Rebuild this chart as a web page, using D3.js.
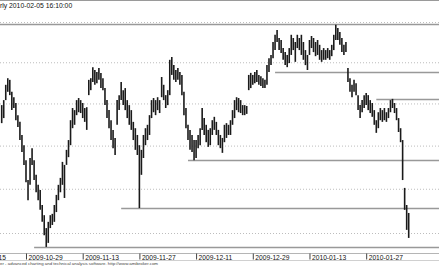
<!DOCTYPE html>
<html>
<head>
<meta charset="utf-8">
<script src="https://cdn.jsdelivr.net/npm/d3@7"></script>
<style>
  html, body { margin: 0; padding: 0; background: #fff; }
  svg { display: block; font-family: "Liberation Sans", Arial, sans-serif; }
</style>
</head>
<body>
<svg width="439" height="268"></svg>
<script>
// bar highs / lows, one bar per slot
const highs = [
  42.96, 43.08, 43.45, 43.61, 43.57, 43.28, 43.15, 43.01, 42.72, 42.56,
  42.25, 42.01, 41.66, 41.20, 41.71, 41.94, 41.66, 41.32, 41.09, 40.97,
  40.63, 40.40, 40.11, 40.25, 40.40, 40.43, 40.63, 40.86, 41.09, 41.25,
  41.62, 41.55, 41.90, 42.13, 42.60, 42.89, 42.84, 43.08, 43.13, 43.08,
  43.01, 42.89, 42.91, 43.57, 43.61, 43.88, 43.81, 43.76, 43.86, 43.74,
  43.61, 43.37, 43.08, 42.84, 42.60, 42.37, 42.18, 43.08, 43.20, 43.52,
  43.32, 43.37, 43.08, 42.96, 42.84, 42.56, 42.41, 42.25, 42.01, 41.90,
  42.25, 42.41, 42.49, 42.72, 43.08, 43.13, 43.08, 43.15, 43.08, 43.64,
  43.45, 43.20, 43.32, 44.06, 44.13, 43.93, 43.81, 43.86, 43.76, 43.69,
  43.28, 42.89, 42.49, 42.37, 42.25, 42.13, 42.13, 42.25, 42.41, 42.89,
  42.65, 42.49, 42.37, 42.41, 42.60, 42.68, 42.56, 42.37, 42.25, 42.18,
  42.49, 42.53, 42.49, 42.60, 42.84, 43.08, 43.15, 43.13, 43.08, 42.96,
  42.96, 42.94, 43.69, 43.74, 43.69, 43.76, 43.81, 43.69, 43.66, 43.61,
  43.57, 43.93, 44.10, 44.18, 44.50, 44.68, 44.80, 44.60, 44.55, 44.35,
  44.25, 44.18, 44.35, 44.68, 44.60, 44.50, 44.68, 44.60, 44.68, 44.50,
  44.30, 44.18, 44.55, 44.65, 44.60, 44.50, 44.55, 44.43, 44.30, 44.35,
  44.30, 44.35, 44.30, 44.43, 44.68, 44.93, 44.85, 44.75, 44.60, 44.43,
  44.50, 43.86, 43.61, 43.45, 43.57, 43.49, 43.20, 42.96, 43.08, 43.20,
  43.25, 43.20, 43.08, 43.01, 42.84, 42.60, 42.79, 42.89, 42.84, 42.89,
  42.79, 42.89, 43.08, 43.11, 43.01, 42.89, 42.65, 42.41, 42.13, 41.02,
  40.63, 40.45
];
const lows = [
  42.53, 42.65, 43.08, 43.28, 43.20, 42.84, 42.89, 42.60, 42.44, 42.13,
  41.85, 41.55, 41.15, 40.74, 41.09, 41.55, 41.20, 40.92, 40.74, 40.52,
  40.25, 39.95, 39.69, 39.78, 40.11, 40.18, 40.25, 40.47, 40.74, 40.92,
  41.09, 40.79, 41.55, 41.73, 42.01, 42.41, 42.49, 42.72, 42.79, 42.77,
  42.65, 42.56, 42.37, 43.20, 43.32, 43.52, 43.45, 43.49, 43.57, 43.37,
  43.32, 42.96, 42.65, 42.41, 42.13, 41.94, 41.78, 42.49, 42.84, 43.08,
  42.96, 42.84, 42.65, 42.49, 42.37, 42.13, 41.90, 41.78, 40.56, 41.32,
  41.71, 42.01, 42.13, 42.25, 42.65, 42.79, 42.72, 42.84, 42.77, 43.15,
  43.08, 42.89, 42.96, 43.20, 43.69, 43.57, 43.52, 43.57, 43.45, 43.20,
  42.72, 42.41, 42.13, 41.90, 41.85, 41.66, 41.71, 41.94, 42.01, 42.37,
  42.25, 42.08, 41.97, 42.01, 42.25, 42.37, 42.25, 42.01, 41.94, 41.83,
  42.08, 42.18, 42.25, 42.25, 42.49, 42.65, 42.84, 42.79, 42.77, 42.72,
  42.72, 42.75, 43.32, 43.37, 43.45, 43.49, 43.52, 43.45, 43.42, 43.37,
  43.37, 43.45, 43.76, 43.93, 44.10, 44.30, 44.50, 44.30, 44.23, 44.06,
  43.93, 43.88, 43.98, 44.18, 44.30, 44.01, 44.35, 44.30, 44.18, 44.06,
  43.93, 43.81, 44.18, 44.35, 44.25, 44.15, 44.18, 44.06, 44.01, 44.06,
  44.06, 44.10, 44.06, 44.15, 44.30, 44.55, 44.55, 44.43, 44.25, 44.18,
  44.25, 43.52, 43.28, 43.15, 43.28, 43.20, 42.84, 42.65, 42.79, 42.89,
  42.96, 42.84, 42.77, 42.68, 42.49, 42.30, 42.41, 42.60, 42.56, 42.60,
  42.56, 42.65, 42.79, 42.89, 42.77, 42.60, 42.32, 42.08, 41.20, 40.52,
  40.07, 39.89
];

// date axis: label every 28 bars
const tickBars = [-16, 12, 40, 68, 96, 124, 152, 180];
const tickLabels = ['2009-10-15', '2009-10-29', '2009-11-13', '2009-11-27',
                    '2009-12-11', '2009-12-29', '2010-01-13', '2010-01-27'];

// price grid and drawn horizontal levels
const gridPrices = [45, 44, 43, 42, 41, 40];
const levelPrices = [44.95, 43.76, 43.11, 41.66, 40.56, 39.69];
const levelStartBars = [-20, 135, 185, 92, 59, 16];

const titleText = 'rly 2010-02-05 16:10:00';
const footerText = 'er - advanced charting and technical analysis software. http://www.amibroker.com';

const W = 439, H = 268;
const svg = d3.select('svg');

const x = d3.scaleLinear().domain([0, highs.length - 1]).range([1.7, 408.7]);
const y = d3.scaleLog().domain([40, 45]).range([233, 22]);

// top frame line
svg.append('line')
    .attr('x1', 0).attr('x2', W)
    .attr('y1', 0.5).attr('y2', 0.5)
    .attr('stroke', '#9a9a9a');

svg.append('text')
    .attr('x', 0)
    .attr('y', 8)
    .attr('font-size', 6.8)
    .attr('fill', '#111')
    .text(titleText);

// dotted grid
const grid = svg.append('g')
    .call(d3.axisLeft(y).tickValues(gridPrices).tickSize(-W).tickFormat(''));
grid.select('.domain').remove();
grid.selectAll('.tick line')
    .attr('stroke', '#bdbdbd')
    .attr('stroke-dasharray', '1,2');

// horizontal levels
svg.append('g')
  .selectAll('line')
  .data(levelPrices)
  .join('line')
    .attr('x1', (d, i) => x(levelStartBars[i]))
    .attr('x2', W)
    .attr('y1', d => Math.round(y(d)) + 0.5)
    .attr('y2', d => Math.round(y(d)) + 0.5)
    .attr('stroke', '#999')
    .attr('stroke-width', 1.3);

// bars
svg.append('g')
  .selectAll('line')
  .data(highs)
  .join('line')
    .attr('x1', (d, i) => x(i))
    .attr('x2', (d, i) => x(i))
    .attr('y1', d => y(d))
    .attr('y2', (d, i) => y(lows[i]))
    .attr('stroke', '#1a1a1a')
    .attr('stroke-width', 1.6);

// date axis
const axisY = 253.5;
const xAxis = svg.append('g')
    .attr('transform', `translate(0,${axisY})`)
    .call(d3.axisBottom(x)
        .tickValues(tickBars)
        .tickSize(6)
        .tickFormat((d, i) => tickLabels[i]));
xAxis.select('.domain')
    .attr('d', `M0,0H${W}`)
    .attr('stroke', '#b5b5b5');
xAxis.selectAll('.tick line').attr('stroke', '#444');
xAxis.selectAll('.tick text')
    .attr('x', 2)
    .attr('y', 6.3)
    .attr('dy', 0)
    .attr('text-anchor', 'start')
    .attr('font-size', 6.7)
    .attr('font-family', '"Liberation Sans", Arial, sans-serif')
    .attr('fill', '#111');

svg.append('line')
    .attr('x1', 0).attr('x2', W)
    .attr('y1', 260.5).attr('y2', 260.5)
    .attr('stroke', '#d0d0d0');

svg.append('text')
    .attr('x', 0)
    .attr('y', 265)
    .attr('font-size', 4.4)
    .attr('fill', '#444')
    .attr('textLength', 158)
    .attr('lengthAdjust', 'spacingAndGlyphs')
    .text(footerText);
</script>
</body>
</html>
